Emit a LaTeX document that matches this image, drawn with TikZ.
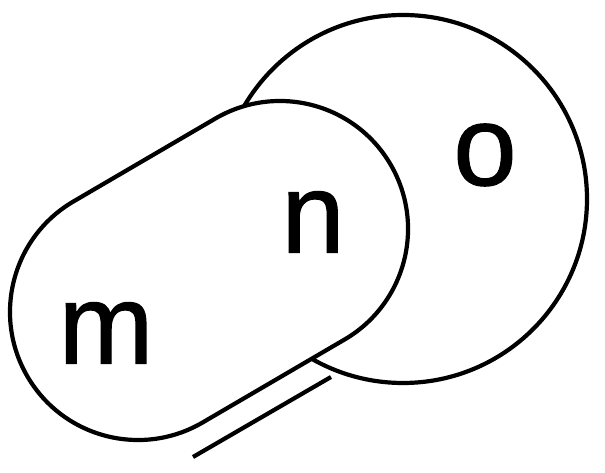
\documentclass[tikz,border=0pt]{standalone}
\usepackage{fontspec}
\setmainfont{Liberation Sans}
\newfontfamily\lblfont[FakeBold=1]{Liberation Sans}
\begin{document}
\begin{tikzpicture}[x=1pt,y=1pt,
  outline/.style={draw=black,line width=4.2pt},
  lbl/.style={inner sep=0pt,font=\lblfont\fontsize{114}{120}\selectfont}]
\useasboundingbox (0,0) rectangle (605,473);
% big circle o
\draw[outline] (403,274) circle[radius=184];
% capsule (m,n)
\draw[outline,fill=white,shift={(138,161)},rotate=30.3]
  (0,128) -- (164.5,128) arc[start angle=90,end angle=-90,radius=128]
  -- (0,-128) arc[start angle=270,end angle=90,radius=128] -- cycle;
% second line under the capsule
\coordinate (d1) at (193,16);
\coordinate (d2) at (331,96);
\draw[outline] (d1) -- (d2);
\node[lbl] (m) at (106,140) {m};
\node[lbl] (n) at (313,251) {n};
\node[lbl] (o) at (485,318) {o};
\end{tikzpicture}
\end{document}
